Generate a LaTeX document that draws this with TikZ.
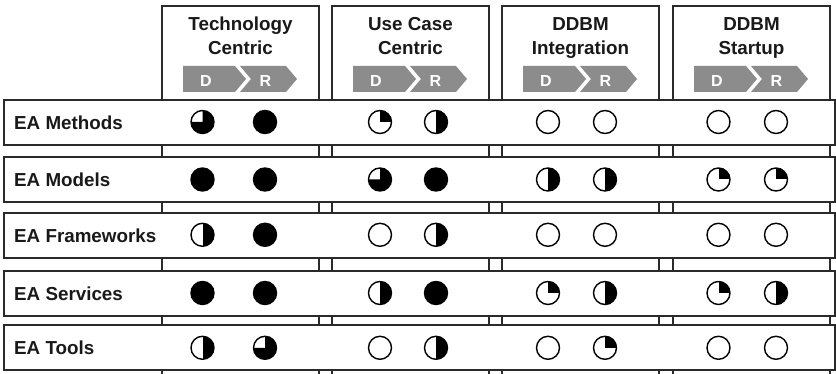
\documentclass[tikz,border=0pt]{standalone}
\usepackage{fontspec}
\setmainfont{Liberation Sans}
\definecolor{chevgray}{HTML}{8C8C8C}
\definecolor{linegray}{HTML}{2A2A2A}
\begin{document}
\begin{tikzpicture}[x=1pt,y=1pt,
  colbox/.style={draw=linegray, line width=1.3pt, fill=white, anchor=north west,
    minimum width=157pt, minimum height=420pt, inner sep=0pt, outer sep=0pt},
  rowbox/.style={draw=linegray, line width=1.3pt, fill=white, anchor=north west,
    minimum width=831pt, minimum height=45pt, inner sep=0pt, outer sep=0pt},
  head/.style={font=\fontsize{18.8}{22}\selectfont\bfseries, text=black!90, anchor=base, inner sep=0pt},
  lab/.style={font=\fontsize{18.8}{22}\selectfont\bfseries, text=black!90, anchor=base west, inner sep=0pt},
  chev/.style={fill=chevgray},
  dr/.style={font=\fontsize{16}{18}\selectfont\bfseries, text=white, anchor=base, inner sep=0pt},
  hb/.style={circle, draw=black, line width=1.4pt, minimum size=23pt, inner sep=0pt, fill=white},
  h0/.style={hb},
  h1/.style={hb, path picture={\fill[black] (path picture bounding box.center) rectangle ++(20,20);}},
  h2/.style={hb, path picture={\fill[black] (path picture bounding box.center) ++(0,-20) rectangle ++(20,40);}},
  h3/.style={hb, path picture={\fill[black] (path picture bounding box.center) -- ++(0,20) -- ++(20,0) -- ++(0,-40) -- ++(-40,0) -- ++(0,20) -- cycle;}},
  h4/.style={hb, fill=black},
]
\useasboundingbox (0,0) rectangle (836,-374);
\clip (0,0) rectangle (836,-374);

% column boxes, headers and D/R chevrons
\foreach \c/\L/\ta/\tb in {1/162/Technology/Centric, 2/332/Use Case/Centric,
    3/502/DDBM/Integration, 4/673/DDBM/Startup}{
  \node[colbox] (col\c) at (\L,-6) {};
  \node[head] (hA\c) at (\L+78.5,-30.5) {\ta};
  \node[head] (hB\c) at (\L+78.5,-54.5) {\tb};
  \fill[chev] (\L+21,-66) -- (\L+73,-66) -- (\L+84,-79) -- (\L+73,-92) -- (\L+21,-92) -- cycle;
  \fill[chev] (\L+78,-66) -- (\L+124,-66) -- (\L+135,-79) -- (\L+124,-92) -- (\L+78,-92) -- (\L+89,-79) -- cycle;
  \node[dr] (d\c) at (\L+44,-86.5) {D};
  \node[dr] (r\c) at (\L+103.5,-86.5) {R};
}

% rows
\foreach \r/\y/\lab in {1/100/EA Methods, 2/157/EA Models, 3/213/EA Frameworks,
    4/271/EA Services, 5/325/EA Tools}{
  \node[rowbox] (row\r) at (4,-\y) {};
  \node[lab] (lab\r) at (14,-\y-22.5-6.8) {\lab};
}

% Harvey balls: row / column / D value / R value
\foreach \r/\yc in {1/122, 2/179.5, 3/234.8, 4/293, 5/347.8}{
  \coordinate (yc\r) at (0,-\yc);
}
\foreach \r/\c/\dx/\rx/\dv/\rv in {
  1/1/202.5/265/3/4, 1/2/380/436/1/2, 1/3/548/605/0/0, 1/4/718.5/776/0/0,
  2/1/202.5/265/4/4, 2/2/380/436/3/4, 2/3/548/605/2/2, 2/4/718.5/776/1/1,
  3/1/202.5/265/2/4, 3/2/380/436/0/2, 3/3/548/605/0/0, 3/4/718.5/776/0/0,
  4/1/202.5/265/4/4, 4/2/380/436/2/4, 4/3/548/605/1/2, 4/4/718.5/776/1/2,
  5/1/202.5/265/2/3, 5/2/380/436/0/2, 5/3/548/605/0/1, 5/4/718.5/776/0/0}{
  \node[h\dv] (b\r\c d) at (yc\r -| {(\dx,0)}) {};
  \node[h\rv] (b\r\c r) at (yc\r -| {(\rx,0)}) {};
}
\end{tikzpicture}
\end{document}
